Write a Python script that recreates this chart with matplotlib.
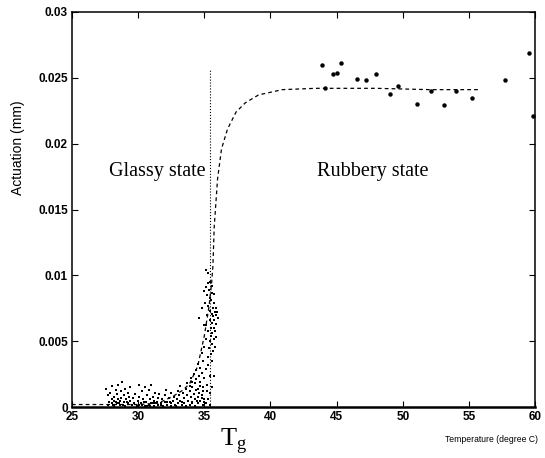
import matplotlib
matplotlib.use("Agg")
import matplotlib.pyplot as plt

plt.rcParams['mathtext.fontset'] = 'custom'
plt.rcParams['mathtext.rm'] = 'Liberation Serif'

# glassy region readings (temperature, actuation)
low_T = [27.6, 27.7, 27.8, 27.9, 28.0, 28.0, 28.1, 28.2, 28.3, 28.3, 28.4, 28.5, 28.5, 28.6,
         28.7, 28.7, 28.8, 28.9, 28.9, 29.0, 29.0, 29.1, 29.2, 29.2, 29.3, 29.4, 29.4, 29.5,
         28.2, 28.6, 28.0, 28.4, 27.7, 28.15, 28.55, 28.85, 29.15,
         29.6, 29.7, 29.8, 29.9, 30.0, 30.1, 30.1, 30.2, 30.3, 30.4, 30.5, 30.5, 30.6, 30.7,
         30.8, 30.8, 30.9, 31.0, 31.0, 31.1, 31.2, 31.2, 31.3, 31.4, 31.5, 31.5, 30.3, 30.9, 31.1,
         30.05, 30.45, 30.65, 31.25,
         31.6, 31.7, 31.8, 31.9, 32.0, 32.0, 32.1, 32.2, 32.3, 32.4, 32.5, 32.5, 32.6, 32.7,
         32.8, 32.9, 33.0, 33.0, 31.75, 32.15, 32.45, 32.85,
         33.1, 33.2, 33.2, 33.3, 33.4, 33.5, 33.5, 33.6, 33.7, 33.7, 33.8, 33.9, 33.9, 34.0,
         34.1, 34.1, 34.2, 34.3, 34.3, 34.4, 34.5, 34.5, 34.6, 34.7, 34.7, 34.8, 34.9, 34.9,
         35.0, 35.0, 35.1, 35.3, 35.45, 33.35, 33.65, 34.05, 34.45, 34.85]
low_A = [0.0014, 0.0009, 0.0004, 0.0011, 0.0006, 0.0016, 0.0002, 0.0008, 0.0013, 0.0004, 0.0010, 0.0006, 0.0017, 0.0002,
         0.0012, 0.0007, 0.0019, 0.0004, 0.0009, 0.0014, 0.0001, 0.0006, 0.0011, 0.0003, 0.0008, 0.0005, 0.0015, 0.0002,
         0.0005, 0.0005, 0.0003, 0.0003, 0.0002, 0.0001, 0.0003, 0.0002, 0.0004,
         0.0007, 0.0003, 0.0010, 0.0001, 0.0005, 0.0017, 0.0008, 0.0003, 0.0012, 0.0006, 0.0001, 0.0015, 0.0004, 0.0009,
         0.0002, 0.0013, 0.0006, 0.0003, 0.0017, 0.0008, 0.0001, 0.0005, 0.0011, 0.0004, 0.0007, 0.0002, 0.0002, 0.0001, 0.0003,
         0.0002, 0.0004, 0.0001, 0.0003,
         0.0010, 0.0003, 0.0006, 0.0001, 0.0009, 0.0004, 0.0013, 0.0002, 0.0007, 0.0004, 0.0011, 0.0001, 0.0005, 0.0008,
         0.0002, 0.0006, 0.0003, 0.0012, 0.0002, 0.0004, 0.0003, 0.0001,
         0.0009, 0.0005, 0.0016, 0.0002, 0.0011, 0.0007, 0.0003, 0.0014, 0.0018, 0.0009, 0.0005, 0.0012, 0.0002, 0.0008,
         0.0015, 0.0004, 0.0010, 0.0006, 0.0001, 0.0013, 0.0008, 0.0003, 0.0011, 0.0005, 0.0016, 0.0009, 0.0002, 0.0012,
         0.0006, 0.0004, 0.0003, 0.0006, 0.0002, 0.0004, 0.0001, 0.0003, 0.0005, 0.0007]

# transition region readings
mid_T = [33.9, 34.0, 34.1, 34.2, 34.3, 34.4, 34.4, 34.5, 34.5, 34.6, 34.6, 34.7, 34.7, 34.8, 34.8, 34.8,
         34.9, 34.9, 35.0, 35.0, 35.0, 35.05, 35.1, 35.1, 35.1, 35.15, 35.15, 35.2, 35.2, 35.2, 35.25, 35.25,
         35.3, 35.3, 35.3, 35.35, 35.35, 35.4, 35.4, 35.4, 35.45, 35.45, 35.45, 35.5, 35.5, 35.5, 35.5,
         35.55, 35.55, 35.55, 35.6, 35.6, 35.6, 35.6, 35.65, 35.65, 35.65, 35.7, 35.7, 35.7, 35.7,
         35.75, 35.75, 35.8, 35.8, 35.8, 35.85, 35.85, 35.9, 35.9, 35.95, 36.0, 35.6, 35.3, 35.2, 35.4, 35.0]
mid_A = [0.0016, 0.0022, 0.0019, 0.0025, 0.0018, 0.0028, 0.0021, 0.0014, 0.0033, 0.0024, 0.0068, 0.0019, 0.0030, 0.0075, 0.0026, 0.0041,
         0.0015, 0.0035, 0.0022, 0.0046, 0.0088, 0.0079, 0.0104, 0.0029, 0.0062, 0.0091, 0.0052, 0.0017, 0.0070, 0.0085, 0.0038, 0.0094,
         0.0102, 0.0058, 0.0077, 0.0045, 0.0089, 0.0066, 0.0024, 0.0083, 0.0011, 0.0073, 0.0095, 0.0054, 0.0060, 0.0040, 0.0081,
         0.0071, 0.0048, 0.0087, 0.0064, 0.0035, 0.0056, 0.0092, 0.0075, 0.0043, 0.0069, 0.0060, 0.0024, 0.0079, 0.0052,
         0.0086, 0.0066, 0.0072, 0.0046, 0.0058, 0.0075, 0.0063, 0.0053, 0.0070, 0.0072, 0.0068, 0.0015, 0.0032, 0.0012, 0.0050, 0.0062]

# rubbery region readings
high_T = [43.9, 44.1, 44.7, 45.0, 45.3, 46.5, 47.2, 47.95, 49.0, 49.6, 51.05, 52.1, 53.1, 54.0, 55.2, 57.7, 59.5, 59.8]
high_A = [0.0260, 0.0242, 0.0253, 0.0254, 0.0261, 0.0249, 0.0248, 0.0253, 0.0238, 0.0244, 0.0230, 0.0240, 0.0229,
          0.0240, 0.0235, 0.0248, 0.0269, 0.0221]

# fitted curve
fit_T = [25.0, 30.0, 31.5, 32.6, 33.4, 33.9, 34.5, 35.0, 35.35, 35.55, 35.65, 35.75, 36.0, 36.3, 36.75,
         37.4, 38.1, 39.1, 40.9, 43.4, 48.0, 52.0, 55.8]
fit_A = [0.0002, 0.0002, 0.0003, 0.0008, 0.0013, 0.0018, 0.0031, 0.0054, 0.0076, 0.0094, 0.0107, 0.0137,
         0.0173, 0.0196, 0.0211, 0.0224, 0.0231, 0.0237, 0.0241, 0.0242, 0.0242, 0.0241, 0.0241]

Tg = 35.45
Tg_top = 0.0257

fig = plt.figure(figsize=(5.45, 4.58), dpi=100)
ax = fig.add_axes([0.132, 0.111, 0.850, 0.863])

ax.plot(fit_T, fit_A, ls='--', color='black', lw=0.9, dashes=(3, 2.5))
ax.plot([Tg, Tg], [0, Tg_top], ls=':', color='black', lw=0.8)
ax.plot(low_T, low_A, 's', color='black', ms=1.7, mew=0)
ax.plot(mid_T, mid_A, 's', color='black', ms=1.7, mew=0)
ax.plot(high_T, high_A, 'o', color='black', ms=3.2, mew=0)

ax.set_xlim(25, 60)
ax.set_ylim(0, 0.03)
ax.set_xticks([25, 30, 35, 40, 45, 50, 55, 60])
ax.set_yticks([0, 0.005, 0.01, 0.015, 0.02, 0.025, 0.03])
ax.set_yticklabels(['0', '0.005', '0.01', '0.015', '0.02', '0.025', '0.03'])
ax.tick_params(direction='in', length=4, width=0.8, top=True, right=True, pad=3)
for lab in ax.get_xticklabels() + ax.get_yticklabels():
    lab.set_family('Liberation Sans')
    lab.set_fontweight('bold')
    lab.set_fontsize(8.5)
for s in ax.spines.values():
    s.set_linewidth(1.1)
ax.spines['bottom'].set_linewidth(1.8)

ax.text(27.8, 0.0179, 'Glassy state', family='Liberation Serif', fontsize=14.5, va='center')
ax.text(43.5, 0.0179, 'Rubbery state', family='Liberation Serif', fontsize=14.5, va='center')

fig.text(220 / 545, 1 - 445 / 458, r'$\mathrm{T}_\mathrm{g}$', fontsize=19, ha='left', va='baseline')
fig.text(538 / 545, 1 - 440 / 458, 'Temperature (degree C)', family='Liberation Sans',
         fontsize=6.2, ha='right', va='center')
fig.text(18 / 545, 1 - 148 / 458, 'Actuation (mm)', family='Liberation Sans',
         fontsize=10, rotation=90, ha='center', va='center')

fig.savefig('out.png', dpi=100)
